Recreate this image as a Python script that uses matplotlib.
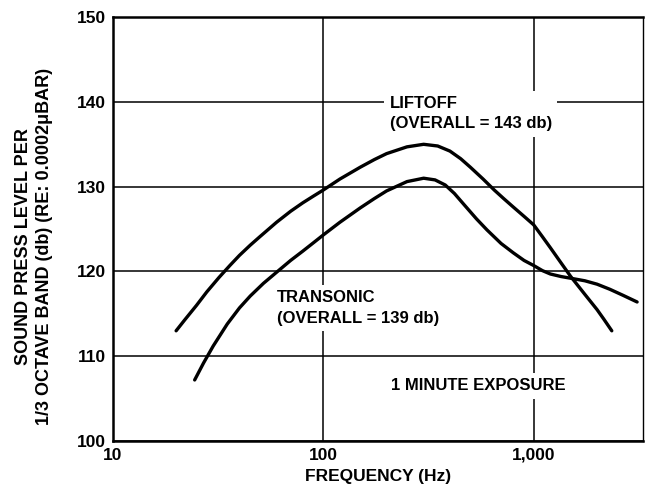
import matplotlib
matplotlib.use("Agg")
import matplotlib.pyplot as plt

plt.rcParams['font.family'] = ['Liberation Sans', 'DejaVu Sans']
plt.rcParams['font.weight'] = 'bold'

# spectra read at 1/3 octave band frequencies
liftoff_hz = [20, 22, 25, 28, 32, 36, 40, 45, 50, 60, 70, 80, 90, 100, 120, 150, 175,
              200, 250, 300, 350, 400, 450, 500, 575, 650, 720, 800, 900, 1000, 1100,
              1200, 1350, 1500, 1750, 2000, 2150, 2350]
liftoff_db = [113, 114.3, 116, 117.6, 119.3, 120.7, 121.9, 123.1, 124.1, 125.8, 127.1,
              128.1, 128.9, 129.6, 130.9, 132.3, 133.2, 133.9, 134.7, 135, 134.8, 134.2,
              133.3, 132.3, 130.9, 129.6, 128.6, 127.6, 126.5, 125.5, 124.1, 122.8, 121,
              119.4, 117.3, 115.5, 114.4, 113]

transonic_hz = [24.5, 27, 30, 35, 40, 45, 52, 62, 70, 80, 90, 100, 120, 150, 175, 200,
                250, 300, 340, 380, 420, 470, 535, 600, 700, 800, 900, 1000, 1100, 1200,
                1350, 1500, 1750, 2000, 2300, 2650, 3100]
transonic_db = [107.2, 109.2, 111.2, 113.8, 115.7, 117.1, 118.6, 120.2, 121.3, 122.4,
                123.4, 124.3, 125.8, 127.5, 128.6, 129.5, 130.6, 131, 130.8, 130.2, 129.2,
                127.8, 126.2, 124.9, 123.3, 122.2, 121.3, 120.7, 120.1, 119.7, 119.4,
                119.2, 118.9, 118.5, 117.9, 117.2, 116.4]

x_ticks = [10, 100, 1000]
x_tick_labels = ["10", "100", "1,000"]
y_ticks = [100, 110, 120, 130, 140, 150]

fig = plt.figure(figsize=(6.48, 4.9), dpi=100)
ax = fig.add_axes([0.174, 0.1, 0.818, 0.865])

ax.set_xscale('log')
ax.set_xlim(10, 3300)
ax.set_ylim(100, 150)

ax.grid(True, which='major', color='black', linewidth=1.1)
ax.set_axisbelow(True)

ax.plot(liftoff_hz, liftoff_db, color='black', linewidth=2.4, solid_capstyle='round',
        solid_joinstyle='round', zorder=3)
ax.plot(transonic_hz, transonic_db, color='black', linewidth=2.4, solid_capstyle='round',
        solid_joinstyle='round', zorder=3)

ax.set_xticks(x_ticks)
ax.set_xticklabels(x_tick_labels)
ax.xaxis.set_minor_locator(matplotlib.ticker.NullLocator())
ax.set_yticks(y_ticks)
ax.tick_params(axis='both', length=0, labelsize=12.5, pad=5)
for lab in ax.get_xticklabels() + ax.get_yticklabels():
    lab.set_fontweight('bold')

for side in ['left', 'bottom', 'top']:
    ax.spines[side].set_linewidth(1.8)
ax.spines['right'].set_linewidth(1.0)
ax.spines['right'].set_linestyle((0, (3, 1)))

ax.set_xlabel("FREQUENCY (Hz)", fontsize=12.5, fontweight='bold', labelpad=4)
ax.set_ylabel("SOUND PRESS LEVEL PER\n1/3 OCTAVE BAND (db) (RE: 0.0002\u03bcBAR)",
              fontsize=13, fontweight='bold', linespacing=1.3)
ax.yaxis.set_label_coords(-0.112, 0.458)

box = dict(facecolor='white', edgecolor='none', pad=4)
ax.text(207, 138.6, "LIFTOFF\n(OVERALL = 143 db)", fontsize=12, fontweight='bold',
        ha='left', va='center', linespacing=1.45, bbox=box, zorder=4)
ax.text(60, 115.7, "TRANSONIC\n(OVERALL = 139 db)", fontsize=12, fontweight='bold',
        ha='left', va='center', linespacing=1.45, bbox=box, zorder=4)
ax.text(210, 106.5, "1 MINUTE EXPOSURE", fontsize=12, fontweight='bold',
        ha='left', va='center', bbox=box, zorder=4)

fig.savefig("out.png", dpi=100)
